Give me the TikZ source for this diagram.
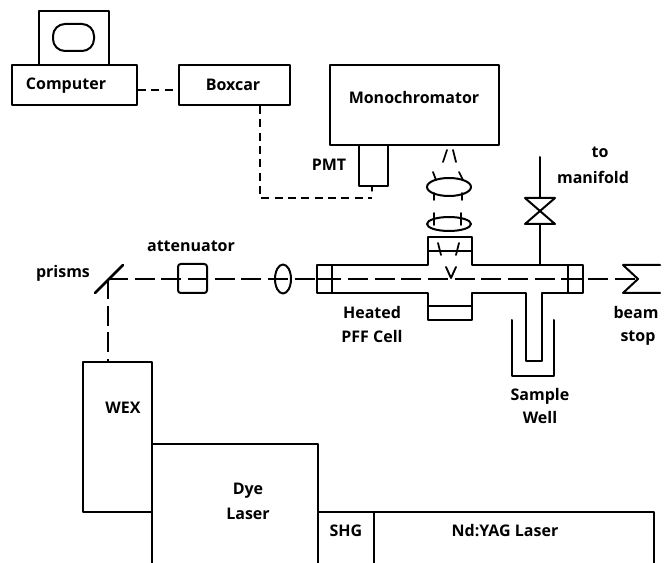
\documentclass[tikz,border=0pt]{standalone}
\usepackage{fontspec}
\setmainfont{Open Sans}
\usetikzlibrary{calc,shapes.geometric}
\newcommand{\pxu}{0.75pt}
\tikzset{
  x=0.75pt,y=-0.75pt,
  ln/.style={line width=1.5pt,black,line cap=round,line join=round},
  bx/.style 2 args={draw,ln,fill=none,rectangle,inner sep=0pt,anchor=north west,
     minimum width=#1*\pxu,minimum height=#2*\pxu},
  lbl/.style={font=\bfseries\fontsize{12pt}{14pt}\selectfont,inner sep=0pt,text=black},
  beam/.style={ln,line width=1.3pt,line cap=butt,dash pattern=on 15pt off 5pt},
  sig/.style={ln,line width=1.1pt,line cap=butt,dash pattern=on 6pt off 4pt},
  lensh/.style={draw,ln,ellipse,inner sep=0pt}
}
\begin{document}
\begin{tikzpicture}
\useasboundingbox (0,0) rectangle (669,563);
\clip (0,0) rectangle (669,563);
% instruments
\node[bx={70}{54}] (monitor) at (38,10) {};
\node[draw,ln,rectangle,rounded corners=9pt,inner sep=0pt,minimum width=41*\pxu,minimum height=27*\pxu] (screen) at (73.5,37.5) {};
\node[bx={125}{40}] (comp) at (11,64) {};
\node[lbl] (complbl) at (66,86) {Computer};
\node[bx={111}{40}] (boxcar) at (178,64) {};
\node[lbl] (boxlbl) at (233,85) {Boxcar};
\node[bx={169}{80}] (mono) at (329,64) {};
\node[lbl] (monolbl) at (414,98) {Monochromator};
\node[bx={29}{41}] (pmt) at (358,144) {};
\node[lbl] (pmtlbl) at (329,165) {PMT};
% signal lines
\coordinate (link) at (0,90);
\coordinate (bend) at (260,198);
\coordinate (tip) at (372,191);
\draw[sig] (comp.east |- link) -- (boxcar.west |- link);
\draw[sig] (boxcar.south -| bend) -- (bend) -- (tip |- bend);
\draw[ln,line width=1.1pt] (tip |- pmt.south) -- (tip);
% collection optics
\draw[ln,line width=1.3pt] (443,162) -- (447,150) (453,150) -- (456,162);
\node[lensh,minimum width=44*\pxu,minimum height=18*\pxu] (lensa) at (449,187) {};
\node[lensh,minimum width=44*\pxu,minimum height=14*\pxu] (lensb) at (449,224) {};
\draw[ln,line width=1.3pt] (433,172) -- (436,180) (459,172) -- (463,180)
  (434,193) -- (434,200) (462,193) -- (462,200)
  (434,213) -- (434,225) (461,213) -- (461,225);
% cell
\coordinate (cellL) at (317,265);
\draw[ln] (428,265) -- (cellL) -- (317,293) -- (428,293) -- (428,320) -- (472,320) -- (472,293)
  -- (526,293) -- (526,361) -- (542,361) -- (542,293) -- (583,293) -- (583,265) -- (472,265)
  -- (472,237) -- (428,237) -- cycle;
\draw[ln,line width=1.2pt] (428,251) -- (472,251) (428,306) -- (472,306)
  (332,265) -- (332,293) (568,265) -- (568,293);
\draw[ln,line width=1.3pt] (438,243) -- (441,255) (459,243) -- (456,255);
\draw[ln,line width=1.4pt] (446,267) -- (451,278) -- (456,267);
% sample well
\draw[ln] (512,320) -- (512,376) -- (554,376) -- (554,320);
\node[lbl] (samplelbl) at (540,396) {Sample};
\node[lbl] (welllbl) at (540,418) {Well};
\node[lbl] (heatlbl) at (372,313) {Heated};
\node[lbl] (pfflbl) at (372,337) {PFF Cell};
% valve
\coordinate (vtop) at (540,157);
\draw[ln] (525,198) -- (555,198) -- (525,224) -- (555,224) -- cycle;
\draw[ln] (vtop) -- (540,198) (540,224) -- (540,265);
\node[lbl] (tolbl) at (600,152) {to};
\node[lbl] (manlbl) at (593,177) {manifold};
% beam line
\coordinate (mirror) at (108,279);
\coordinate (apex) at (638,279);
\draw[ln,line width=2pt] (95,293) -- (123,265);
\node[draw,ln,rectangle,rounded corners=2pt,inner sep=0pt,minimum width=29*\pxu,minimum height=29*\pxu] (att) at (192.5,278.5) {};
\node[lensh,minimum width=16*\pxu,minimum height=29*\pxu] (lensc) at (283,279) {};
\draw[beam] (mirror) -- (apex);
\draw[ln,line width=1.2pt] (317,279) -- (332,279) (568,279) -- (583,279);
\draw[ln] (660,265) -- (623,265) -- (apex) -- (623,293) -- (660,293);
\node[lbl] (attlbl) at (191,246) {attenuator};
\node[lbl] (prismlbl) at (63,273) {prisms};
\node[lbl] (beamlbl) at (636,313) {beam};
\node[lbl] (stoplbl) at (638,338) {stop};
% lasers
\node[bx={69}{150}] (wex) at (82,361) {};
\node[lbl] (wexlbl) at (123,408) {WEX};
\draw[beam] (mirror) -- (mirror |- wex.north);
\node[bx={166}{140}] (dye) at (151,443) {};
\node[lbl] (dyelbl) at (248,491) {Dye};
\node[lbl] (laslbl) at (248,514) {Laser};
\node[bx={56}{70}] (shg) at (317,511) {};
\node[lbl] (shglbl) at (346,531) {SHG};
\node[bx={280}{70}] (yag) at (373,511) {};
\node[lbl] (yaglbl) at (505,531) {Nd:YAG Laser};
\end{tikzpicture}
\end{document}
